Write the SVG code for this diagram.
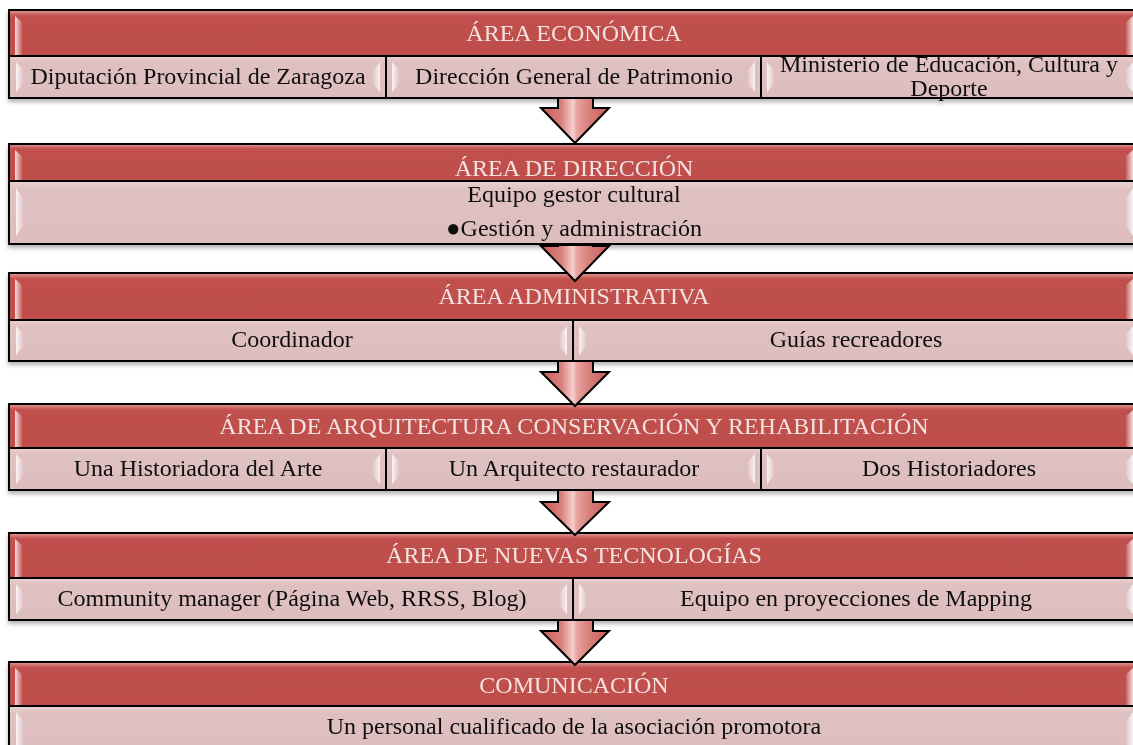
<svg xmlns="http://www.w3.org/2000/svg" width="1133" height="745" viewBox="0 0 1133 745">
<style>
.hdr{fill:url(#gHdr);stroke:#000;stroke-width:2}
.sub{fill:url(#gSub);stroke:#000;stroke-width:2}
.ht{font-family:"Liberation Serif",serif;font-size:24px;fill:#F4E2E1;text-anchor:middle}
.st{font-family:"Liberation Serif",serif;font-size:24px;fill:#111;text-anchor:middle}
.hl{fill:url(#gHl);opacity:0.85}
.hr{fill:url(#gHr);opacity:0.85}
.arr{fill:url(#gArr);stroke:#000;stroke-width:2;stroke-linejoin:miter}
</style>
<defs>
<linearGradient id="gHdr" x1="0" y1="0" x2="0" y2="1">
<stop offset="0" stop-color="#E49C9A"/>
<stop offset="0.1" stop-color="#C8605D"/>
<stop offset="0.14" stop-color="#C0504D"/>
<stop offset="1" stop-color="#BE4E4B"/>
</linearGradient>
<linearGradient id="gSub" x1="0" y1="0" x2="0" y2="1">
<stop offset="0" stop-color="#EBD2D2"/>
<stop offset="0.15" stop-color="#E0C1C1"/>
<stop offset="1" stop-color="#DDBDBD"/>
</linearGradient>
<linearGradient id="gHl" x1="0" y1="0" x2="1" y2="0">
<stop offset="0" stop-color="#fff" stop-opacity="0.95"/>
<stop offset="1" stop-color="#fff" stop-opacity="0.15"/>
</linearGradient>
<linearGradient id="gHr" x1="1" y1="0" x2="0" y2="0">
<stop offset="0" stop-color="#fff" stop-opacity="0.95"/>
<stop offset="1" stop-color="#fff" stop-opacity="0.15"/>
</linearGradient>
<linearGradient id="gArr" x1="0" y1="0" x2="1" y2="0">
<stop offset="0" stop-color="#C85A57"/>
<stop offset="0.3" stop-color="#D9807D"/>
<stop offset="0.47" stop-color="#F6CFCD"/>
<stop offset="0.53" stop-color="#E8A2A0"/>
<stop offset="0.7" stop-color="#D9807D"/>
<stop offset="1" stop-color="#C85A57"/>
</linearGradient>
<filter id="sh" x="-5%" y="-20%" width="110%" height="150%">
<feDropShadow dx="0" dy="3" stdDeviation="2" flood-color="#000" flood-opacity="0.3"/>
</filter>
</defs>

<g id="block1" filter="url(#sh)">
<rect class="hdr" x="9" y="10" width="1131" height="46"/>
<polygon class="hl" points="15,16 22,22 22,56 15,56"/>
<polygon class="hr" points="1133,16 1126,22 1126,56 1133,56"/>
<text class="ht" x="574" y="41">ÁREA ECONÓMICA</text>
<rect class="sub" x="9" y="56" width="377" height="42"/>
<rect class="sub" x="386" y="56" width="375" height="42"/>
<rect class="sub" x="761" y="56" width="379" height="42"/>
<polygon class="hl" points="16,62 23,70 23,84 16,92"/>
<polygon class="hr" points="380,62 373,70 373,84 380,92"/>
<polygon class="hl" points="392,62 399,70 399,84 392,92"/>
<polygon class="hr" points="755,62 748,70 748,84 755,92"/>
<polygon class="hl" points="767,62 774,70 774,84 767,92"/>
<polygon class="hr" points="1133,62 1126,70 1126,84 1133,92"/>
<text class="st" x="198" y="84">Diputación Provincial de Zaragoza</text>
<text class="st" x="574" y="84">Dirección General de Patrimonio</text>
<text class="st" x="949" y="72">Ministerio de Educación, Cultura y</text>
<text class="st" x="949" y="96">Deporte</text>
</g>

<g id="block2" filter="url(#sh)">
<rect class="hdr" x="9" y="144" width="1131" height="37"/>
<polygon class="hl" points="15,150 22,156 22,181 15,181"/>
<polygon class="hr" points="1133,150 1126,156 1126,181 1133,181"/>
<text class="ht" x="574" y="176">ÁREA DE DIRECCIÓN</text>
<rect class="sub" x="9" y="181" width="1131" height="63"/>
<polygon class="hl" points="16,188 23,198 23,226 16,236"/>
<polygon class="hr" points="1133,188 1126,198 1126,226 1133,236"/>
<text class="st" x="574" y="202">Equipo gestor cultural</text>
<text class="st" x="574" y="236">●Gestión y administración</text>
</g>

<g id="block3" filter="url(#sh)">
<rect class="hdr" x="9" y="273" width="1131" height="47"/>
<polygon class="hl" points="15,279 22,285 22,320 15,320"/>
<polygon class="hr" points="1133,279 1126,285 1126,320 1133,320"/>
<text class="ht" x="574" y="304">ÁREA ADMINISTRATIVA</text>
<rect class="sub" x="9" y="320" width="564" height="41"/>
<rect class="sub" x="573" y="320" width="567" height="41"/>
<polygon class="hl" points="16,326 23,334 23,347 16,355"/>
<polygon class="hr" points="567,326 560,334 560,347 567,355"/>
<polygon class="hl" points="579,326 586,334 586,347 579,355"/>
<polygon class="hr" points="1133,326 1126,334 1126,347 1133,355"/>
<text class="st" x="292" y="347">Coordinador</text>
<text class="st" x="856" y="347">Guías recreadores</text>
</g>

<g id="block4" filter="url(#sh)">
<rect class="hdr" x="9" y="404" width="1131" height="44"/>
<polygon class="hl" points="15,410 22,416 22,448 15,448"/>
<polygon class="hr" points="1133,410 1126,416 1126,448 1133,448"/>
<text class="ht" x="574" y="434">ÁREA DE ARQUITECTURA CONSERVACIÓN Y REHABILITACIÓN</text>
<rect class="sub" x="9" y="448" width="377" height="42"/>
<rect class="sub" x="386" y="448" width="375" height="42"/>
<rect class="sub" x="761" y="448" width="379" height="42"/>
<polygon class="hl" points="16,454 23,462 23,476 16,484"/>
<polygon class="hr" points="380,454 373,462 373,476 380,484"/>
<polygon class="hl" points="392,454 399,462 399,476 392,484"/>
<polygon class="hr" points="755,454 748,462 748,476 755,484"/>
<polygon class="hl" points="767,454 774,462 774,476 767,484"/>
<polygon class="hr" points="1133,454 1126,462 1126,476 1133,484"/>
<text class="st" x="198" y="476">Una Historiadora del Arte</text>
<text class="st" x="574" y="476">Un Arquitecto restaurador</text>
<text class="st" x="949" y="476">Dos Historiadores</text>
</g>

<g id="block5" filter="url(#sh)">
<rect class="hdr" x="9" y="533" width="1131" height="45"/>
<polygon class="hl" points="15,539 22,545 22,578 15,578"/>
<polygon class="hr" points="1133,539 1126,545 1126,578 1133,578"/>
<text class="ht" x="574" y="563">ÁREA DE NUEVAS TECNOLOGÍAS</text>
<rect class="sub" x="9" y="578" width="564" height="42"/>
<rect class="sub" x="573" y="578" width="567" height="42"/>
<polygon class="hl" points="16,584 23,592 23,606 16,614"/>
<polygon class="hr" points="567,584 560,592 560,606 567,614"/>
<polygon class="hl" points="579,584 586,592 586,606 579,614"/>
<polygon class="hr" points="1133,584 1126,592 1126,606 1133,614"/>
<text class="st" x="292" y="606">Community manager (Página Web, RRSS, Blog)</text>
<text class="st" x="856" y="606">Equipo en proyecciones de Mapping</text>
</g>

<g id="block6" filter="url(#sh)">
<rect class="hdr" x="9" y="662" width="1131" height="44"/>
<polygon class="hl" points="15,668 22,674 22,706 15,706"/>
<polygon class="hr" points="1133,668 1126,674 1126,706 1133,706"/>
<text class="ht" x="574" y="693">COMUNICACIÓN</text>
<rect class="sub" x="9" y="706" width="1131" height="45"/>
<polygon class="hl" points="16,712 23,720 23,745 16,745"/>
<polygon class="hr" points="1133,712 1126,720 1126,745 1133,745"/>
<text class="st" x="574" y="734">Un personal cualificado de la asociación promotora</text>
</g>

<g id="connectors">
<polygon class="arr" points="558,98 593,98 593,108 609,108 575,143 541,108 558,108"/>
<polygon class="arr" points="558,245 593,245 593,246 609,246 575,281 541,246 558,246"/>
<polygon class="arr" points="558,361 593,361 593,372 609,372 575,406 541,372 558,372"/>
<polygon class="arr" points="558,490 593,490 593,502 609,502 575,535 541,502 558,502"/>
<polygon class="arr" points="558,620 593,620 593,631 609,631 575,665 541,631 558,631"/>
</g>
</svg>
